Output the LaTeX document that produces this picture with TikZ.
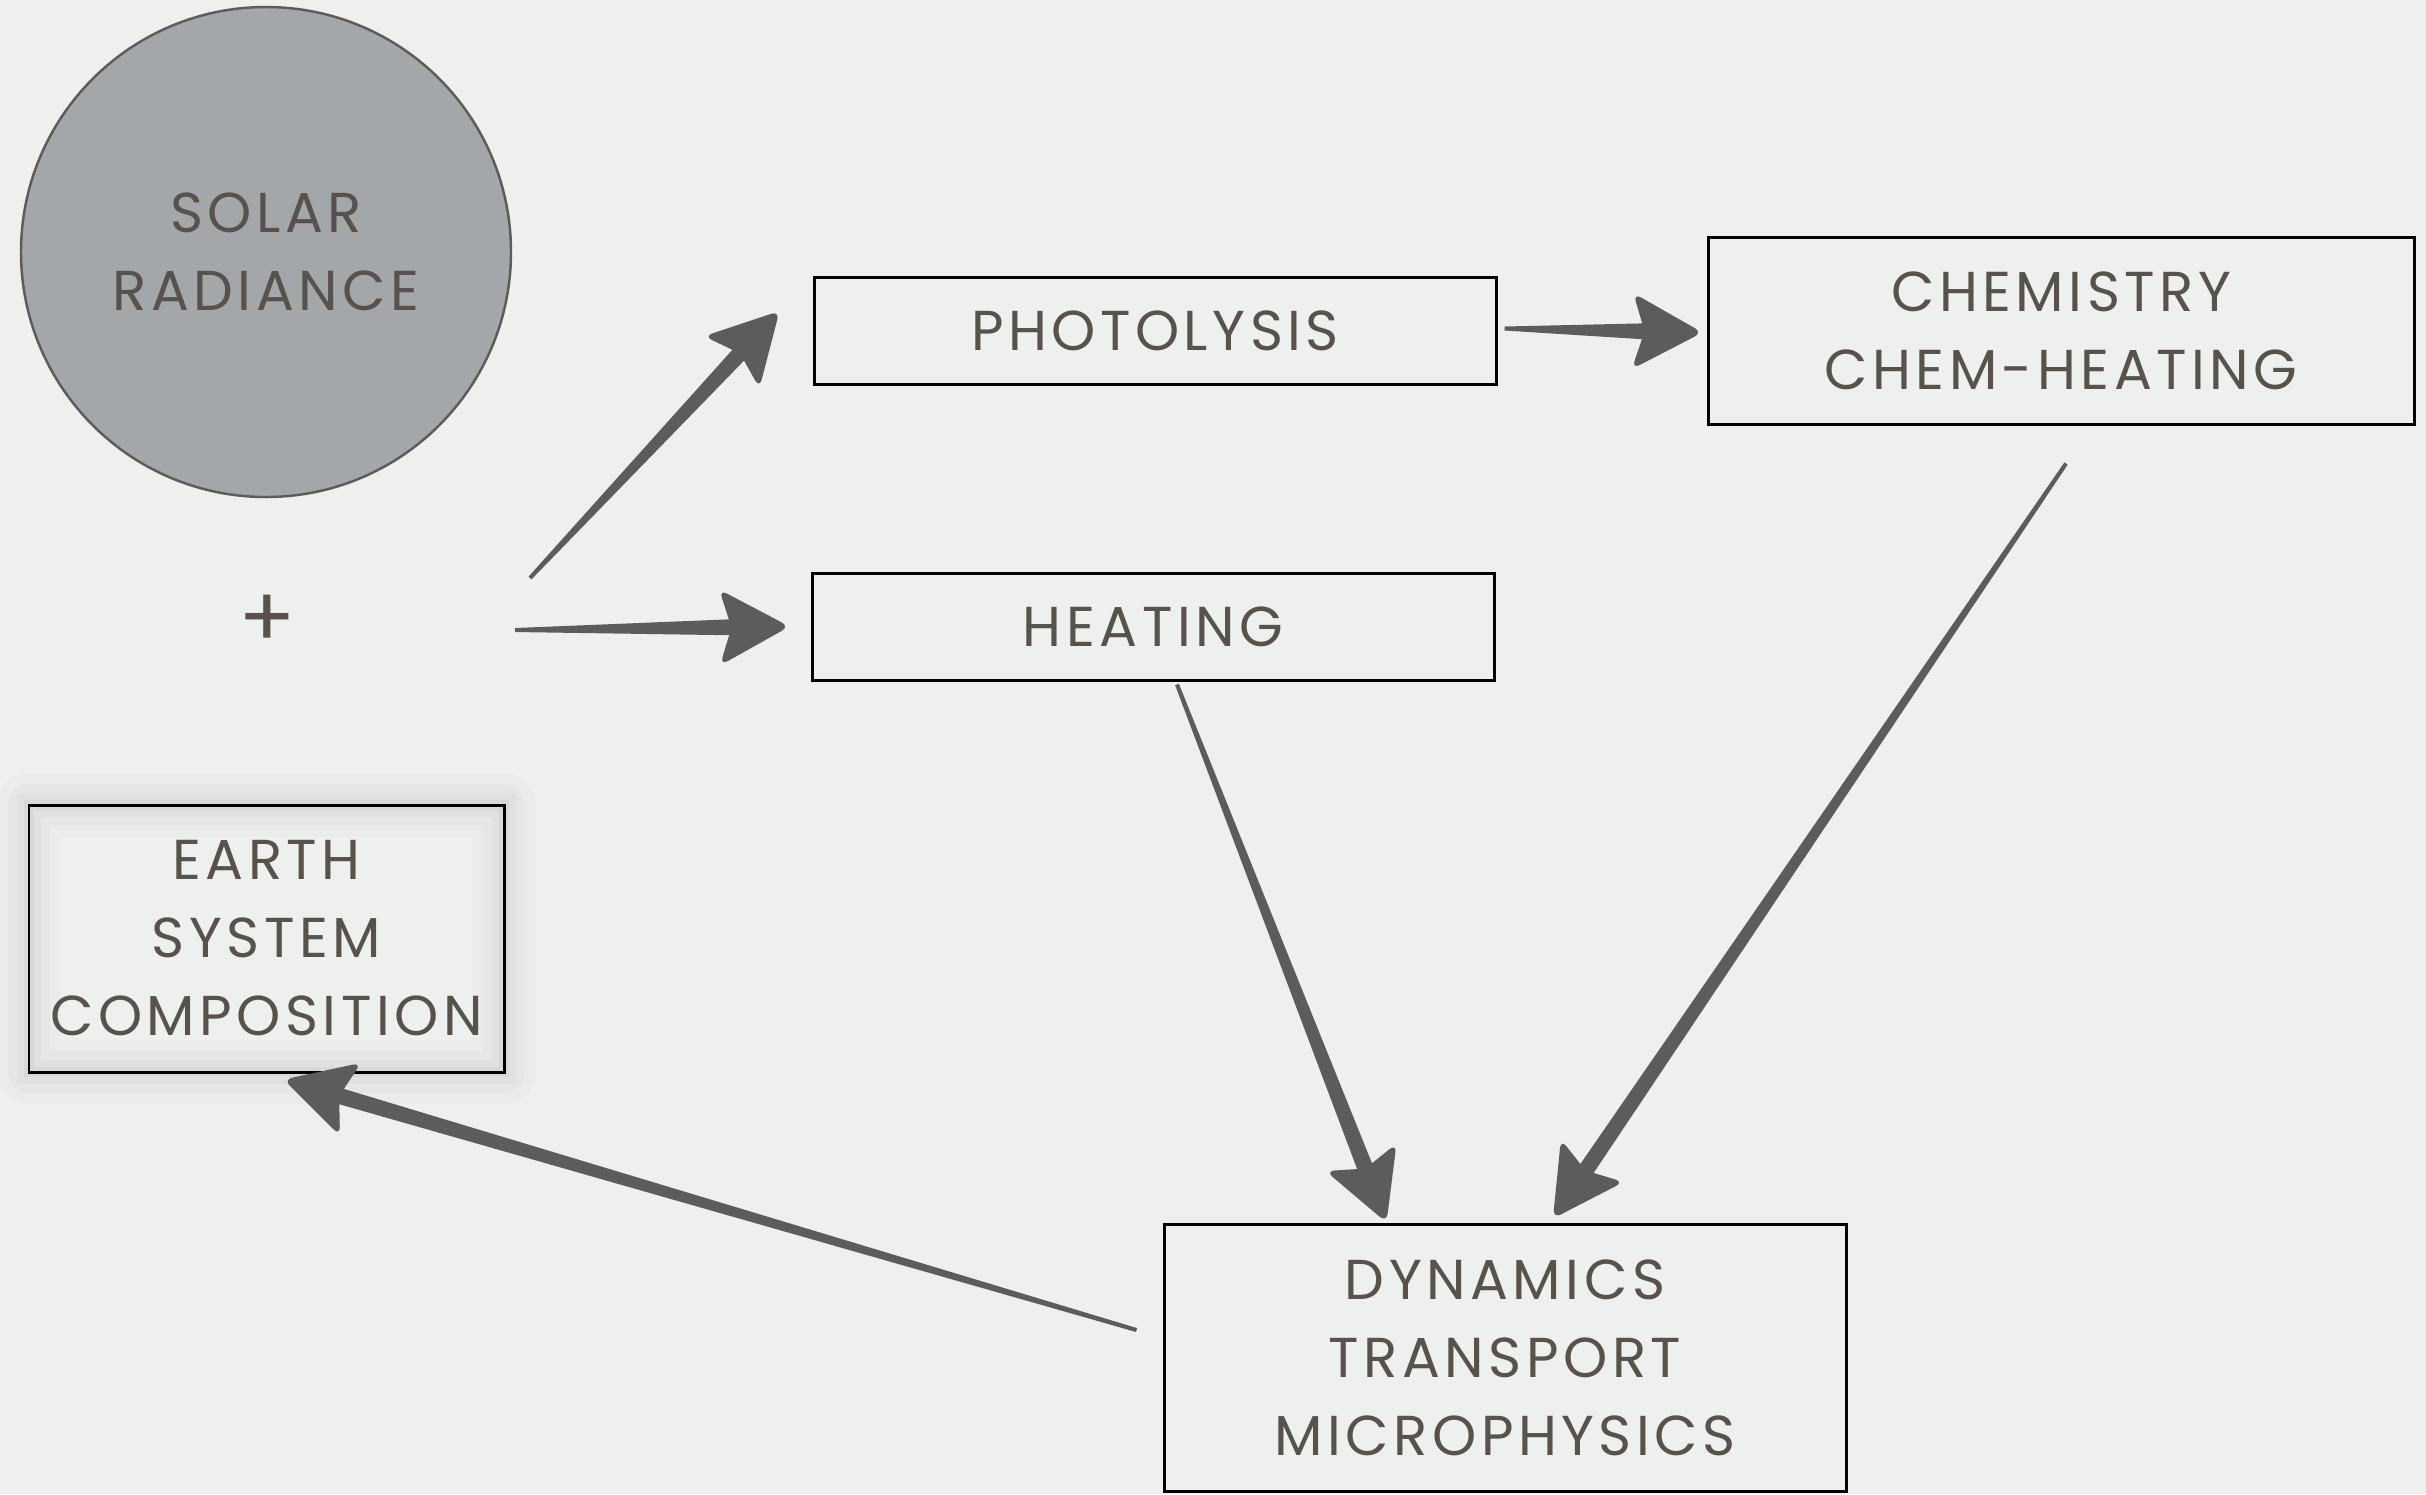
\documentclass[tikz,border=0pt]{standalone}
\usepackage{fontspec}
\setmainfont{Poppins}[LetterSpace=8]
\usepackage{tikz}
\usetikzlibrary{calc}
\definecolor{paper}{RGB}{238,240,237}
\definecolor{chalk}{RGB}{87,82,77}
\definecolor{ink}{RGB}{92,92,92}
\definecolor{sungray}{RGB}{163,167,169}
\newcommand{\labelfont}{\fontsize{16}{22.2}\selectfont}
\tikzstyle{procbox} = [rectangle, draw=black, line width=0.85pt, minimum width=6.82cm, minimum height=1.07cm, text=chalk, align=center, font=\labelfont]
\tikzstyle{tallbox} = [procbox, minimum height=2.67cm]
\tikzstyle{glow} = [preaction={draw=black, opacity=0.015, line width=18pt, line join=round}, preaction={draw=black, opacity=0.02, line width=12pt, line join=round}, preaction={draw=black, opacity=0.025, line width=7pt}, preaction={draw=black, opacity=0.03, line width=3pt}]
\tikzstyle{sun} = [circle, draw=ink, line width=0.7pt, fill=sungray, minimum size=4.9cm, text=chalk, align=center, font=\labelfont]
% tapered brush stroke with a solid head, from #1 to #2
\newcommand{\brush}[2]{%
  \coordinate (hb) at ($(#2)!0.58cm!(#1)$);
  \coordinate (hc) at ($(#2)!0.7cm!(#1)$);
  \fill[ink] ($(#1)!0.02cm!90:(#2)$) -- ($(hb)!0.08cm!-90:(#1)$) -- ($(hb)!0.08cm!90:(#1)$) -- ($(#1)!0.02cm!-90:(#2)$) -- cycle;
  \fill[ink, rounded corners=2.5pt] (#2) -- ($(hc)!0.38cm!90:(#2)$) -- (hb) -- ($(hc)!0.38cm!-90:(#2)$) -- cycle;
}

\begin{document}
\begin{tikzpicture}
\fill[paper] (0,0) rectangle (24.26,-14.94);
\useasboundingbox (0,0) rectangle (24.26,-14.94);

\node (solar) [sun] at (2.66,-2.52) {SOLAR\\RADIANCE};
\node (plus) [text=chalk, font=\fontsize{24}{24}\selectfont] at (2.67,-6.21) {+};
\node (photo) [procbox] at (11.55,-3.305) {PHOTOLYSIS};
\node (heat) [procbox, below of=photo, node distance=2.96cm, xshift=-0.02cm] {HEATING};
\node (chem) [procbox, minimum width=7.06cm, minimum height=1.87cm] at (20.61,-3.305) {CHEMISTRY\\CHEM-HEATING};
\node (earth) [tallbox, glow, minimum width=4.75cm] at (2.665,-9.385) {EARTH\\SYSTEM\\COMPOSITION};
\node (dyn) [tallbox] at (15.05,-13.575) {DYNAMICS\\TRANSPORT\\MICROPHYSICS};

% brush ends
\coordinate (srcA) at ([xshift=2.63cm,yshift=0.43cm]plus.center);
\coordinate (srcB) at ([xshift=2.48cm,yshift=-0.09cm]plus.center);
\coordinate (photoIn) at ([xshift=-0.33cm,yshift=0.195cm]photo.west);
\coordinate (heatIn) at ([xshift=-0.21cm]heat.west);
\coordinate (photoOut) at ([xshift=0.07cm,yshift=0.02cm]photo.east);
\coordinate (chemIn) at ([xshift=-0.04cm,yshift=-0.02cm]chem.west);
\coordinate (heatOut) at ([xshift=0.24cm,yshift=-0.03cm]heat.south);
\coordinate (dynInA) at ($(dyn.north west)!0.327!(dyn.north east)$);
\coordinate (chemOut) at ([xshift=0.05cm,yshift=-0.38cm]chem.south);
\coordinate (dynInB) at ([yshift=0.04cm]$(dyn.north west)!0.57!(dyn.north east)$);
\coordinate (dynOut) at ([xshift=-0.26cm,yshift=0.275cm]dyn.west);
\coordinate (earthIn) at ([xshift=0.17cm,yshift=-0.06cm]earth.south);

\brush{srcA}{photoIn}
\brush{srcB}{heatIn}
\brush{photoOut}{chemIn}
\brush{heatOut}{dynInA}
\brush{chemOut}{dynInB}
\brush{dynOut}{earthIn}
\end{tikzpicture}
\end{document}
